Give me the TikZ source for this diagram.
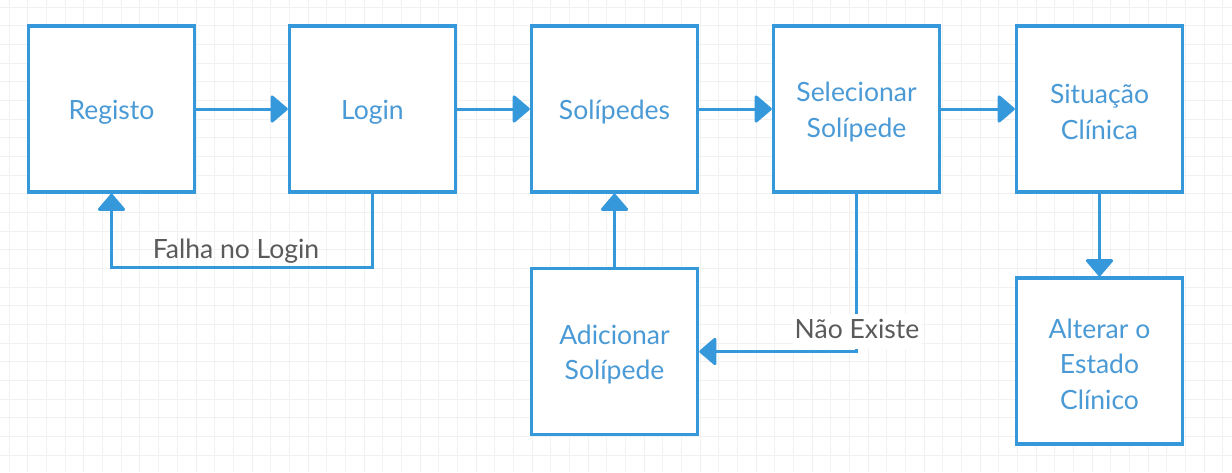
\documentclass[tikz,border=0pt]{standalone}
\usepackage{fontspec}
\setmainfont{Lato}
\usetikzlibrary{arrows.meta}
\definecolor{flowblue}{HTML}{3498DB}
\definecolor{flowtext}{HTML}{4A9AD6}
\definecolor{labelgray}{HTML}{5A5A5A}
\definecolor{gridgray}{HTML}{F1F1F1}
\tikzset{
  stepbox/.style={draw=flowblue, line width=3.5pt, fill=white,
    minimum width=166pt, minimum height=166pt, inner sep=0pt},
  boxtext/.style={align=center, text=flowtext, inner sep=0pt, yshift=-3pt,
    font=\fontsize{26.5}{35.5}\selectfont},
  conn/.style={draw=flowblue, line width=3pt,
    -{Triangle[width=30pt,length=18pt,round]}},
  edgelabel/.style={text=labelgray, font=\fontsize{26.5}{30}\selectfont, inner sep=1pt}
}
\begin{document}
\begin{tikzpicture}[x=1pt,y=-1pt]
  % canvas and background grid
  \fill[white] (0,0) rectangle (1232,472);
  \useasboundingbox (0,0) rectangle (1232,472);
  \foreach \i in {0,...,65} {
    \draw[gridgray, line width=1pt] ({9.3+18.67*\i},0) -- ({9.3+18.67*\i},472);
  }
  \foreach \j in {0,...,25} {
    \draw[gridgray, line width=1pt] (0,{7.2+18.67*\j}) -- (1232,{7.2+18.67*\j});
  }

  % process steps
  \node[stepbox, label={[boxtext]center:Registo}]   (registo) at (111.5,109) {};
  \node[stepbox, label={[boxtext]center:Login}]     (login)   at (372.5,109) {};
  \node[stepbox, label={[boxtext]center:Solípedes}] (solip)   at (614.5,109) {};
  \node[stepbox, label={[boxtext]center:{Selecionar\\Solípede}}] (selec) at (856.5,109) {};
  \node[stepbox, label={[boxtext]center:{Situação\\Clínica}}]    (situa) at (1099.5,109) {};
  \node[stepbox, label={[boxtext]center:{Adicionar\\Solípede}}]  (adic)  at (614.5,351.5) {};
  \node[stepbox, label={[boxtext]center:{Alterar o\\Estado\\Clínico}}] (alter) at (1099.5,361) {};

  % main flow
  \draw[conn] (registo.east) -- (login.west);
  \draw[conn] (login.east) -- (solip.west);
  \draw[conn] (solip.east) -- (selec.west);
  \draw[conn] (selec.east) -- (situa.west);
  \draw[conn] (situa.south) -- (alter.north);
  \draw[conn] (adic.north) -- (solip.south);

  % failed login loops back to registration
  \coordinate (failturn) at (372.5,267);
  \draw[conn] (login.south) -- (failturn) -| (registo.south);
  \node[edgelabel, anchor=base] (faillbl) at (236,258) {Falha no Login};

  % missing animal leads to the add step
  \draw[conn] (selec.south) |- (adic.east);
  \node[edgelabel, fill=white, anchor=base, inner xsep=2pt, inner ysep=5pt,
        text depth=6pt] (misslbl) at (857,338) {Não Existe};
\end{tikzpicture}
\end{document}
